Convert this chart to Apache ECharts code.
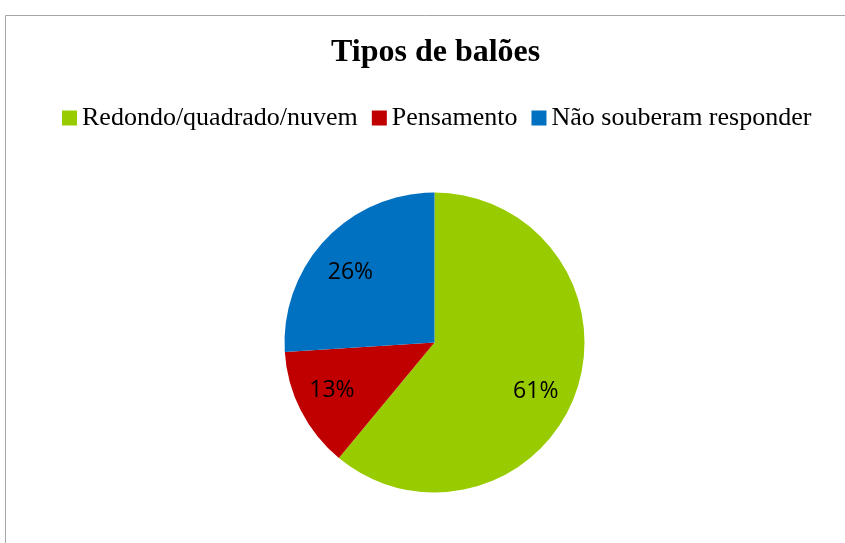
<!DOCTYPE html>
<html>
<head>
<meta charset="utf-8">
<script src="https://cdn.jsdelivr.net/npm/echarts@6/dist/echarts.min.js"></script>
<style>
  html, body { margin: 0; padding: 0; background: #fff; }
  #main { width: 845px; height: 543px; }
</style>
</head>
<body>
<div id="main"></div>
<script>
// dados do gráfico
var categorias = ['Redondo/quadrado/nuvem', 'Pensamento', 'Não souberam responder'];
var valores = [61, 13, 26];
var cores = ['#99CC00', '#C00000', '#0070C0'];

var chart = echarts.init(document.getElementById('main'));

// pequenos ajustes de posição dos rótulos (estilo Excel)
var deslocRotulos = [[-6, 10], [-1, -4], [-1, 8]];

var option = {
    animation: false,
    title: {
        text: 'Tipos de balões',
        left: 331,
        top: 37,
        padding: 0,
        textStyle: {
            fontFamily: 'Liberation Serif',
            fontWeight: 'bold',
            fontSize: 32,
            color: '#000'
        }
    },
    legend: {
        data: categorias,
        left: 57,
        top: 100,
        itemWidth: 15,
        itemHeight: 15,
        itemGap: 14,
        icon: 'rect',
        textStyle: {
            fontFamily: 'Liberation Serif',
            fontSize: 26,
            color: '#000'
        }
    },
    graphic: [{
        type: 'rect',
        shape: { x: 5.5, y: 15.5, width: 1000, height: 1000 },
        style: { fill: 'none', stroke: '#a6a6a6', lineWidth: 1 },
        silent: true
    }],
    series: [{
        // fatias
        type: 'pie',
        center: [434.5, 342.5],
        radius: 150,
        startAngle: 90,
        clockwise: true,
        silent: true,
        label: { show: false },
        labelLine: { show: false },
        data: categorias.map(function (nome, i) {
            return { name: nome, value: valores[i], itemStyle: { color: cores[i] } };
        })
    }, {
        // rótulos de percentagem
        type: 'pie',
        center: [434.5, 342.5],
        radius: 222,
        startAngle: 90,
        clockwise: true,
        silent: true,
        itemStyle: { color: 'rgba(0,0,0,0)' },
        label: {
            show: true,
            position: 'inside',
            formatter: '{c}%',
            fontFamily: 'Open Sans',
            fontSize: 23,
            color: '#000'
        },
        labelLine: { show: false },
        data: categorias.map(function (nome, i) {
            return { name: nome, value: valores[i], label: { offset: deslocRotulos[i] } };
        })
    }]
};

chart.setOption(option);
</script>
</body>
</html>
